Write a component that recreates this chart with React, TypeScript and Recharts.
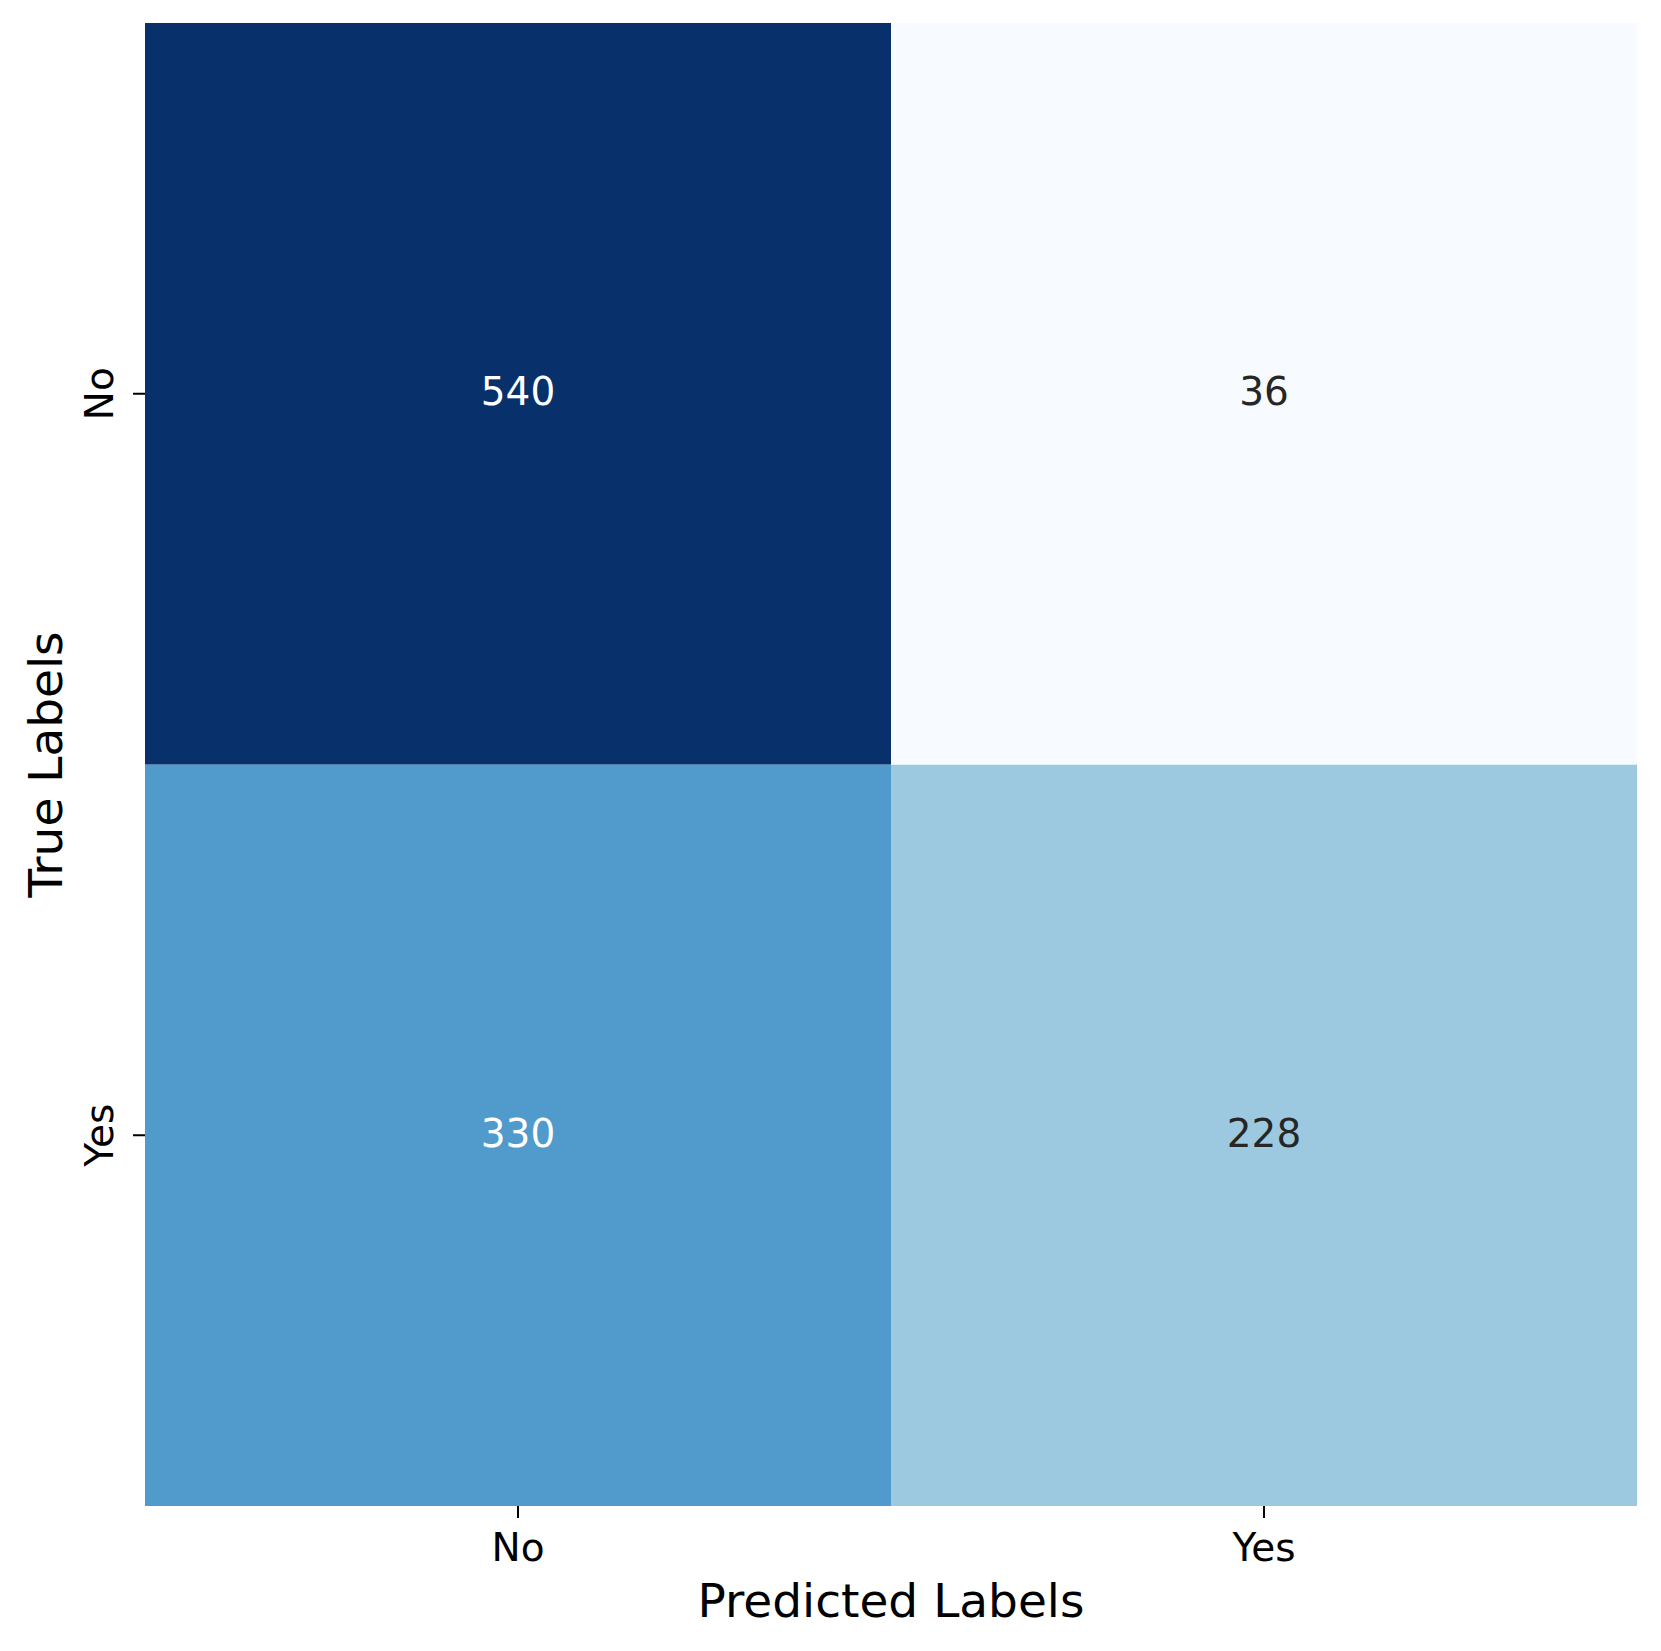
import React from 'react';
import { BarChart, Bar, XAxis, YAxis, Cell, LabelList, Label } from 'recharts';

const predictedLabels = ['No', 'Yes'];
const trueLabels = ['No', 'Yes'];
// counts[trueIndex][predIndex]
const countsTrueNo = [540, 36];
const countsTrueYes = [330, 228];

const BLUES = ['#f7fbff', '#deebf7', '#c6dbef', '#9ecae1', '#6baed6', '#4292c6', '#2171b5', '#08519c', '#08306b'];

const allCounts = [...countsTrueNo, ...countsTrueYes];
const vmin = Math.min(...allCounts);
const vmax = Math.max(...allCounts);

function hexToRgb(h: string) {
  return [parseInt(h.slice(1, 3), 16), parseInt(h.slice(3, 5), 16), parseInt(h.slice(5, 7), 16)];
}
function bluesRgb(v: number) {
  const t = Math.max(0, Math.min(1, (v - vmin) / (vmax - vmin)));
  const pos = t * (BLUES.length - 1);
  const i = Math.min(BLUES.length - 2, Math.floor(pos));
  const f = pos - i;
  const a = hexToRgb(BLUES[i]);
  const b = hexToRgb(BLUES[i + 1]);
  return a.map((c, k) => Math.round(c + (b[k] - c) * f));
}
function bluesColor(v: number) {
  const [r, g, b] = bluesRgb(v);
  return `rgb(${r},${g},${b})`;
}
function textColor(v: number) {
  const rgb = bluesRgb(v).map((c) => {
    const s = c / 255;
    return s <= 0.03928 ? s / 12.92 : Math.pow((s + 0.055) / 1.055, 2.4);
  });
  const lum = 0.2126 * rgb[0] + 0.7152 * rgb[1] + 0.0722 * rgb[2];
  return lum > 0.408 ? '#262626' : '#ffffff';
}

const data = predictedLabels.map((p, j) => ({
  pred: p,
  rowYes: 1,
  rowNo: 1,
  countYes: countsTrueYes[j],
  countNo: countsTrueNo[j],
}));

const FONT = 'DejaVu Sans, sans-serif';

const CellLabel = (props: any) => {
  const { x, y, width, height, value } = props;
  return (
    <text
      x={x + width / 2}
      y={y + height / 2}
      dy="0.3em"
      textAnchor="middle"
      fontFamily={FONT}
      fontSize={39}
      fill={textColor(value)}
    >
      {value}
    </text>
  );
};

const XTick = (props: any) => {
  const { x, y, payload } = props;
  return (
    <text x={x} y={y} dy={41} textAnchor="middle" fontFamily={FONT} fontSize={39} fill="#000">
      {payload.value}
    </text>
  );
};

const yTickValue = (v: number) => (v === 1.5 ? trueLabels[0] : trueLabels[1]);

const YTick = (props: any) => {
  const { x, y, payload } = props;
  const tx = x - 18;
  return (
    <text
      x={tx}
      y={y}
      transform={`rotate(-90, ${tx}, ${y})`}
      textAnchor="middle"
      fontFamily={FONT}
      fontSize={39}
      fill="#000"
    >
      {yTickValue(payload.value)}
    </text>
  );
};

const XTitle = (props: any) => {
  const vb = props.viewBox;
  return (
    <text x={vb.x + vb.width / 2} y={vb.y + 111} textAnchor="middle" fontFamily={FONT} fontSize={47} fill="#000">
      Predicted Labels
    </text>
  );
};

const YTitle = (props: any) => {
  const vb = props.viewBox;
  const tx = 62;
  const ty = vb.y + vb.height / 2;
  return (
    <text x={tx} y={ty} transform={`rotate(-90, ${tx}, ${ty})`} textAnchor="middle" fontFamily={FONT} fontSize={47} fill="#000">
      True Labels
    </text>
  );
};

export default function App() {
  return (
    <div style={{ position: 'absolute', left: 0, top: 0, background: '#fff' }}>
      <BarChart
        width={1661}
        height={1651}
        data={data}
        margin={{ top: 23, right: 24, bottom: 0, left: 0 }}
        barCategoryGap={0}
        barGap={0}
      >
        <XAxis
          dataKey="pred"
          height={145}
          tickSize={12}
          tickLine={{ stroke: '#000', strokeWidth: 2 }}
          axisLine={false}
          tick={<XTick />}
          interval={0}
        >
          <Label content={<XTitle />} />
        </XAxis>
        <YAxis
          type="number"
          domain={[0, 2]}
          ticks={[0.5, 1.5]}
          width={145}
          tickSize={12}
          tickLine={{ stroke: '#000', strokeWidth: 2 }}
          axisLine={false}
          tick={<YTick />}
          allowDataOverflow
        >
          <Label content={<YTitle />} />
        </YAxis>
        <Bar dataKey="rowYes" stackId="m" isAnimationActive={false}>
          {data.map((d, i) => (
            <Cell key={`y${i}`} fill={bluesColor(d.countYes)} />
          ))}
          <LabelList dataKey="countYes" content={<CellLabel />} />
        </Bar>
        <Bar dataKey="rowNo" stackId="m" isAnimationActive={false}>
          {data.map((d, i) => (
            <Cell key={`n${i}`} fill={bluesColor(d.countNo)} />
          ))}
          <LabelList dataKey="countNo" content={<CellLabel />} />
        </Bar>
      </BarChart>
    </div>
  );
}
